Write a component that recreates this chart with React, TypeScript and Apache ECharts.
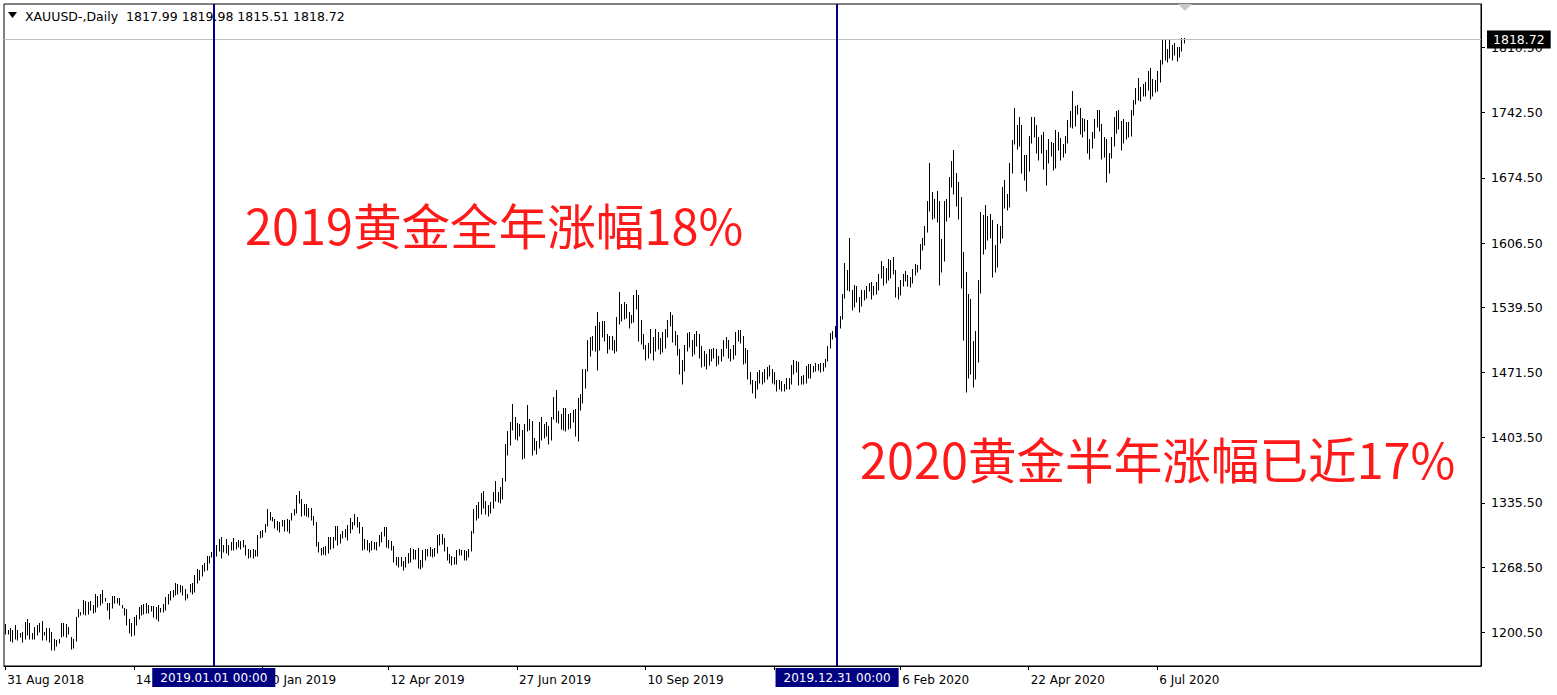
import React, { useEffect, useRef } from 'react';
import * as echarts from 'echarts';

// ---------- calendar ----------
const START = [2018, 7, 31];
const HOLIDAYS = ['2018-12-25', '2019-01-01', '2019-04-19', '2019-12-25', '2020-01-01', '2020-04-10'];
const TOTAL_SLOTS = 609;
const MONTHS = ['Jan', 'Feb', 'Mar', 'Apr', 'May', 'Jun', 'Jul', 'Aug', 'Sep', 'Oct', 'Nov', 'Dec'];

const AXIS_LABEL_DATES = ['31 Aug 2018', '14 Nov 2018', '30 Jan 2019', '12 Apr 2019', '27 Jun 2019', '10 Sep 2019', '22 Nov 2019', '6 Feb 2020', '22 Apr 2020', '6 Jul 2020'];
const PRICE_TICKS = [1200.5, 1268.5, 1335.5, 1403.5, 1471.5, 1539.5, 1606.5, 1674.5, 1742.5, 1810.5];
const LAST_PRICE = 1818.72;
const HEADER = 'XAUUSD-,Daily\u00a0\u00a01817.99 1819.98 1815.51 1818.72';
const VLINES = [
  { date: '2 Jan 2019', label: '2019.01.01 00:00' },
  { date: '31 Dec 2019', label: '2019.12.31 00:00' },
];
const NOTE_2019 = '2019黄金全年涨幅18%';
const NOTE_2020 = '2020黄金半年涨幅已近17%';

// ---------- daily bars: [low, high] ----------
const sep2018 = [[1199,1209],[1199,1203],[1192,1205],[1191,1203],[1194,1208],[1193,1203],[1196,1200],[1191,1201],[1194,1211],[1198,1214],[1194,1210],[1194,1200],[1194,1206],[1198,1208],[1201,1210],[1193,1212],[1198,1201],[1193,1205],[1191,1205],[1182,1201],[1182,1194]];
const oct2018 = [[1186,1193],[1190,1194],[1196,1210],[1197,1210],[1196,1209],[1199,1206],[1183,1196],[1184,1194],[1192,1217],[1217,1225],[1219,1222],[1220,1234],[1219,1233],[1220,1232],[1224,1233],[1221,1229],[1222,1241],[1227,1238],[1229,1241],[1231,1245],[1233,1236],[1224,1231],[1214,1231]];
const nov2018 = [[1226,1239],[1231,1238],[1231,1236],[1229,1236],[1226,1229],[1219,1226],[1208,1225],[1200,1214],[1197,1210],[1198,1217],[1208,1219],[1215,1227],[1219,1229],[1220,1230],[1221,1231],[1221,1229],[1223,1228],[1217,1228],[1214,1227],[1212,1229],[1222,1226],[1222,1230]];
const dec2018 = [[1224,1237],[1230,1241],[1234,1244],[1237,1245],[1240,1252],[1241,1251],[1243,1250],[1240,1249],[1234,1246],[1236,1241],[1243,1251],[1241,1252],[1243,1260],[1252,1267],[1255,1266],[1259,1271],[1265,1273],[1266,1280],[1273,1280],[1279,1284]];
const jan2019 = [[1278,1287],[1280,1292],[1285,1298],[1278,1300],[1284,1292],[1283,1298],[1281,1292],[1286,1295],[1286,1299],[1287,1295],[1290,1297],[1288,1296],[1290,1297],[1281,1292],[1278,1287],[1279,1286],[1278,1288],[1280,1286],[1280,1302],[1299,1306],[1300,1307],[1305,1314]];
const feb2019 = [[1311,1329],[1318,1326],[1317,1321],[1309,1319],[1307,1317],[1305,1316],[1311,1318],[1306,1318],[1306,1319],[1304,1318],[1318,1325],[1323,1329],[1325,1344],[1335,1348],[1322,1340],[1323,1334],[1322,1334],[1321,1330],[1318,1330],[1312,1322]];
const mar2019 = [[1291,1316],[1284,1295],[1281,1289],[1282,1290],[1281,1291],[1283,1300],[1287,1300],[1289,1300],[1297,1311],[1292,1311],[1294,1303],[1299,1306],[1300,1308],[1297,1313],[1304,1320],[1308,1316],[1312,1324],[1310,1321],[1304,1316],[1286,1310],[1288,1298]];
const apr2019 = [[1286,1297],[1284,1294],[1286,1296],[1287,1295],[1286,1295],[1291,1302],[1295,1305],[1301,1310],[1290,1310],[1289,1297],[1286,1296],[1274,1291],[1271,1279],[1269,1279],[1270,1279],[1266,1275],[1269,1279],[1273,1283],[1274,1289],[1277,1288],[1277,1286]];
const may2019 = [[1268,1289],[1267,1276],[1269,1286],[1276,1287],[1280,1288],[1280,1290],[1279,1287],[1280,1289],[1283,1302],[1292,1303],[1293,1303],[1285,1299],[1276,1290],[1273,1282],[1271,1280],[1272,1279],[1272,1286],[1281,1287],[1281,1286],[1276,1286],[1276,1285],[1279,1288],[1285,1306]];
const jun2019 = [[1304,1329],[1318,1333],[1320,1336],[1324,1346],[1330,1348],[1324,1338],[1322,1333],[1325,1337],[1330,1347],[1338,1358],[1336,1347],[1335,1352],[1340,1361],[1358,1397],[1385,1411],[1396,1420],[1412,1439],[1402,1425],[1401,1419],[1405,1418]];
const jul2019 = [[1381,1412],[1382,1418],[1411,1438],[1412,1423],[1386,1421],[1391,1403],[1387,1400],[1393,1420],[1401,1425],[1403,1418],[1405,1420],[1397,1416],[1401,1425],[1423,1446],[1420,1453],[1419,1431],[1413,1428],[1412,1434],[1411,1435],[1413,1428],[1414,1429],[1420,1432],[1405,1433]];
const aug2019 = [[1400,1445],[1432,1449],[1440,1475],[1455,1475],[1473,1505],[1489,1509],[1495,1510],[1494,1520],[1474,1535],[1495,1524],[1509,1525],[1504,1525],[1492,1512],[1496,1510],[1495,1510],[1492,1505],[1494,1529],[1522,1555],[1525,1543],[1527,1545],[1528,1543],[1518,1535]];
const sep2019 = [[1523,1531],[1524,1552],[1538,1557],[1504,1552],[1501,1526],[1496,1512],[1485,1500],[1487,1502],[1492,1517],[1485,1508],[1494,1517],[1496,1514],[1491,1507],[1493,1514],[1497,1517],[1508,1526],[1520,1535],[1503,1531],[1500,1515],[1490,1511],[1470,1496]];
const oct2019 = [[1459,1485],[1473,1500],[1494,1513],[1498,1514],[1489,1505],[1491,1512],[1499,1515],[1487,1512],[1477,1499],[1478,1494],[1475,1491],[1479,1496],[1484,1496],[1487,1497],[1478,1496],[1480,1489],[1484,1496],[1489,1505],[1497,1509],[1487,1505],[1484,1496],[1486,1500],[1490,1514]];
const nov2019 = [[1504,1516],[1502,1516],[1480,1510],[1481,1497],[1465,1495],[1459,1472],[1450,1464],[1445,1463],[1454,1472],[1461,1474],[1460,1472],[1462,1475],[1465,1477],[1468,1479],[1461,1475],[1459,1472],[1452,1464],[1454,1464],[1452,1463],[1452,1460],[1454,1466]];
const dec2019 = [[1454,1466],[1459,1479],[1470,1485],[1472,1483],[1458,1482],[1459,1468],[1460,1469],[1461,1478],[1466,1480],[1466,1480],[1472,1478],[1473,1481],[1474,1480],[1472,1481],[1473,1481],[1477,1486],[1484,1499],[1497,1513],[1506,1515],[1508,1520],[1513,1526]];
const jan2020 = [[1518,1530],[1527,1553],[1549,1586],[1558,1578],[1556,1612],[1537,1558],[1540,1563],[1545,1562],[1535,1550],[1541,1558],[1547,1558],[1549,1562],[1556,1565],[1548,1566],[1552,1562],[1553,1566],[1557,1574],[1570,1588],[1563,1583],[1565,1580],[1568,1590],[1570,1589]];
const feb2020 = [[1574,1592],[1550,1578],[1548,1561],[1552,1568],[1562,1574],[1567,1577],[1562,1573],[1561,1571],[1565,1579],[1573,1585],[1576,1584],[1579,1605],[1599,1612],[1604,1624],[1618,1650],[1640,1690],[1632,1660],[1633,1652],[1628,1661],[1563,1650]];
const mar2020 = [[1576,1611],[1588,1650],[1629,1652],[1634,1675],[1665,1692],[1658,1704],[1645,1679],[1632,1670],[1560,1654],[1505,1597],[1451,1576],[1466,1553],[1470,1548],[1456,1504],[1465,1515],[1482,1568],[1554,1639],[1595,1636],[1600,1646],[1610,1635],[1612,1637],[1571,1631]];
const apr2020 = [[1576,1604],[1582,1626],[1607,1624],[1612,1665],[1643,1672],[1641,1658],[1644,1690],[1680,1714],[1710,1747],[1705,1730],[1708,1738],[1680,1730],[1672,1698],[1661,1698],[1682,1718],[1711,1738],[1717,1738],[1700,1730],[1693,1717],[1700,1719],[1684,1722]];
const may2020 = [[1667,1703],[1690,1715],[1697,1712],[1683,1711],[1685,1724],[1703,1722],[1693,1716],[1696,1710],[1700,1718],[1711,1735],[1727,1744],[1726,1765],[1728,1749],[1741,1750],[1720,1747],[1717,1737],[1723,1736],[1700,1735],[1694,1715],[1706,1722],[1716,1736]];
const jun2020 = [[1727,1745],[1723,1745],[1694,1731],[1696,1717],[1670,1715],[1679,1700],[1695,1717],[1708,1738],[1721,1744],[1725,1745],[1704,1734],[1711,1736],[1715,1733],[1717,1733],[1718,1745],[1740,1756],[1751,1768],[1756,1779],[1755,1769],[1760,1772],[1760,1774],[1766,1786]];
const jul2020 = [[1757,1789],[1760,1777],[1764,1776],[1765,1786],[1774,1797],[1793,1818],[1797,1818],[1795,1809],[1799,1818],[1797,1813],[1803,1815],[1796,1811],[1800,1811],[1807,1820],[1815.51,1819.98]];

const MONTHLY = [sep2018, oct2018, nov2018, dec2018, jan2019, feb2019, mar2019, apr2019, may2019, jun2019, jul2019, aug2019, sep2019, oct2019, nov2019, dec2019, jan2020, feb2020, mar2020, apr2020, may2020, jun2020, jul2020];

function buildCategories(): string[] {
  const out: string[] = [];
  const d = new Date(Date.UTC(START[0], START[1], START[2]));
  while (out.length < TOTAL_SLOTS) {
    const dow = d.getUTCDay();
    const iso = d.toISOString().slice(0, 10);
    if (dow !== 0 && dow !== 6 && HOLIDAYS.indexOf(iso) < 0) {
      out.push(`${d.getUTCDate()} ${MONTHS[d.getUTCMonth()]} ${d.getUTCFullYear()}`);
    }
    d.setUTCDate(d.getUTCDate() + 1);
  }
  return out;
}

const FONT = '"DejaVu Sans", Tahoma, sans-serif';
const CJK = '"Noto Sans CJK SC", "Noto Sans", sans-serif';

export default function App() {
  const ref = useRef<HTMLDivElement>(null);
  useEffect(() => {
    document.body.style.margin = '0';
    const categories = buildCategories();
    const bars: number[][] = [];
    MONTHLY.forEach((m) => m.forEach((b) => bars.push([bars.length, b[0], b[1]])));
    const labelSet = new Set(AXIS_LABEL_DATES);
    const showLabel = (_i: number, v: string) => labelSet.has(v);

    const chart = echarts.init(ref.current!, null, { renderer: 'svg' });
    chart.setOption({
      animation: false,
      backgroundColor: '#fff',
      grid: { left: 4, right: 76, top: 4, height: 662, show: true, borderColor: '#000', borderWidth: 1, backgroundColor: '#fff' },
      xAxis: {
        type: 'category',
        data: categories,
        boundaryGap: true,
        axisLine: { show: true, lineStyle: { color: '#000', width: 1 } },
        axisTick: { show: true, interval: showLabel, alignWithLabel: true, length: 4, lineStyle: { color: '#000' } },
        axisLabel: { show: true, interval: showLabel, align: 'left', margin: 8, padding: [0, 0, 0, 2], color: '#000', fontSize: 12, fontFamily: FONT },
        splitLine: { show: false },
      },
      yAxis: {
        type: 'value',
        position: 'right',
        min: 1165.5,
        max: 1855.7,
        scale: true,
        axisLine: { show: true, lineStyle: { color: '#000', width: 1 } },
        axisTick: { show: true, length: 4, customValues: PRICE_TICKS, lineStyle: { color: '#000' } },
        axisLabel: { show: true, customValues: PRICE_TICKS, margin: 10, color: '#000', fontSize: 12.5, fontFamily: FONT, formatter: (v: number) => v.toFixed(2) },
        splitLine: { show: false },
      },
      series: [
        {
          type: 'custom',
          data: bars,
          encode: { x: 0, y: [1, 2] },
          clip: true,
          renderItem: (_p: any, api: any) => {
            const i = api.value(0);
            const a = api.coord([i, api.value(1)]);
            const b = api.coord([i, api.value(2)]);
            const x = Math.round(a[0]) + 0.5;
            return {
              type: 'line',
              shape: { x1: x, y1: Math.round(a[1]) + 0.5, x2: x, y2: Math.round(b[1]) },
              style: { stroke: '#000', lineWidth: 1 },
            };
          },
          z: 3,
        },
        {
          type: 'line',
          data: [],
          silent: true,
          z: 4,
          markLine: {
            symbol: 'none',
            silent: true,
            animation: false,
            data: [
              {
                yAxis: LAST_PRICE,
                lineStyle: { color: '#c0c0c0', width: 1, type: 'solid' },
                label: { show: true, position: 'end', distance: 6, formatter: LAST_PRICE.toFixed(2), color: '#fff', backgroundColor: '#000', padding: [3, 6, 2, 6], fontSize: 12.5, fontFamily: FONT },
              },
              ...VLINES.map((v) => ({
                xAxis: categories.indexOf(v.date),
                lineStyle: { color: '#000080', width: 2, type: 'solid' },
                label: { show: true, position: 'start', distance: 2, formatter: v.label, color: '#fff', backgroundColor: '#000080', padding: [4, 8, 3, 8], fontSize: 12, fontFamily: FONT },
              })),
            ],
          },
        },
      ],
      graphic: [
        { type: 'polygon', shape: { points: [[8, 12], [17, 12], [12.5, 18]] }, style: { fill: '#000' }, z: 10 },
        { type: 'text', x: 25, y: 16, style: { text: HEADER, fill: '#000', font: `12.5px ${FONT}`, textVerticalAlign: 'middle' }, z: 10 },
        { type: 'polygon', shape: { points: [[1178, 4], [1192, 4], [1185, 11]] }, style: { fill: '#c8c8c8' }, z: 10 },
        { type: 'text', x: 245, y: 224, style: { text: NOTE_2019, fill: '#ff1a1a', font: `48.6px ${CJK}`, textVerticalAlign: 'middle' }, z: 10 },
        { type: 'text', x: 860, y: 458, style: { text: NOTE_2020, fill: '#ff1a1a', font: `48.6px ${CJK}`, textVerticalAlign: 'middle' }, z: 10 },
      ],
    });
    return () => chart.dispose();
  }, []);
  return <div ref={ref} style={{ width: 1557, height: 695, position: 'fixed', left: 0, top: 0, background: '#fff' }} />;
}
